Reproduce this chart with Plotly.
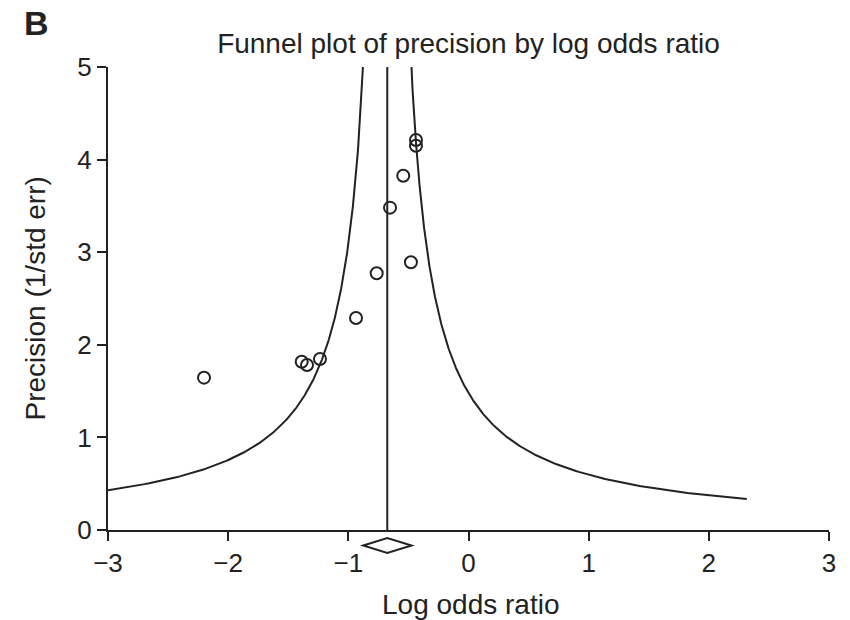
import numpy as np
import plotly.graph_objects as go

# Study data
log_odds_ratio = [-2.201, -1.388, -1.344, -1.236, -0.936, -0.764, -0.653, -0.543, -0.479, -0.437, -0.437]
precision = [1.645, 1.817, 1.782, 1.847, 2.289, 2.772, 3.481, 3.826, 2.891, 4.212, 4.150]

# Pooled estimate and its interval (diamond)
pooled = -0.676
pooled_low = -0.876
pooled_high = -0.474
funnel_z = 1.0

x_ticks = [-3, -2, -1, 0, 1, 2, 3]
y_ticks = [0, 1, 2, 3, 4, 5]

ink = "#222222"

# funnel limits from pooled estimate
prec_left = np.linspace(funnel_z / (pooled + 3.0), 6.0, 600)
x_left = pooled - funnel_z / prec_left
prec_right = np.linspace(funnel_z / (2.316 - pooled), 6.0, 600)
x_right = pooled + funnel_z / prec_right

fig = go.Figure()
fig.add_trace(go.Scatter(x=x_left, y=prec_left, mode="lines",
                         line=dict(color=ink, width=2), hoverinfo="skip", showlegend=False))
fig.add_trace(go.Scatter(x=x_right, y=prec_right, mode="lines",
                         line=dict(color=ink, width=2), hoverinfo="skip", showlegend=False))
fig.add_trace(go.Scatter(x=[pooled, pooled], y=[0, 5], mode="lines",
                         line=dict(color=ink, width=2), hoverinfo="skip", showlegend=False))
fig.add_trace(go.Scatter(x=log_odds_ratio, y=precision, mode="markers",
                         marker=dict(symbol="circle-open", size=12, color=ink,
                                     line=dict(color=ink, width=2)),
                         showlegend=False))

# diamond below the axis
d_top, d_mid, d_bot = -0.0173, -0.0335, -0.0497
fig.add_shape(type="path", xref="x", yref="paper",
              path=f"M {pooled_low},{d_mid} L {pooled},{d_top} L {pooled_high},{d_mid} L {pooled},{d_bot} Z",
              line=dict(color=ink, width=2), fillcolor="white")

font_family = "Liberation Sans, Arial, sans-serif"

fig.update_layout(
    width=842, height=612,
    margin=dict(l=100, r=21, t=59, b=90),
    paper_bgcolor="white", plot_bgcolor="white",
    font=dict(family=font_family, color=ink, size=26),
    title=dict(text="Funnel plot of precision by log odds ratio",
               x=0.5, xref="paper", xanchor="center",
               y=1 - 35 / 612, yref="container", yanchor="middle",
               font=dict(size=28, color=ink, family=font_family)),
    xaxis=dict(range=[-3, 3], tickvals=x_ticks, showgrid=False, zeroline=False,
               showline=True, linecolor=ink, linewidth=2, ticks="outside",
               ticklen=9, tickwidth=2, tickcolor=ink,
               tickfont=dict(size=26, color=ink)),
    yaxis=dict(range=[0, 5], tickvals=y_ticks, showgrid=False, zeroline=False,
               showline=True, linecolor=ink, linewidth=2, ticks="outside",
               ticklen=9, tickwidth=2, tickcolor=ink,
               tickfont=dict(size=26, color=ink)),
    annotations=[
        dict(text="Log odds ratio", xref="paper", yref="paper", x=0.503, y=-0.160,
             xanchor="center", yanchor="middle", showarrow=False,
             font=dict(size=28, color=ink)),
        dict(text="Precision (1/std err)", xref="paper", yref="paper", x=-0.0999, y=0.5,
             xanchor="center", yanchor="middle", textangle=-90, showarrow=False,
             font=dict(size=28, color=ink)),
        dict(text="<b>B</b>", xref="paper", yref="paper", x=-0.119, y=1.096,
             xanchor="left", yanchor="middle", showarrow=False,
             font=dict(size=34, color=ink)),
    ],
)

fig.write_html("out.html")
